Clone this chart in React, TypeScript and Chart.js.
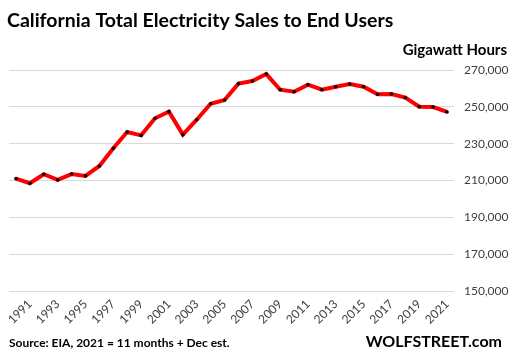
import React, { useEffect, useRef } from "react";
import { Chart, registerables } from "chart.js";

Chart.register(...registerables);

const years: string[] = [
  "1990", "1991", "1992", "1993", "1994", "1995", "1996", "1997", "1998", "1999",
  "2000", "2001", "2002", "2003", "2004", "2005", "2006", "2007", "2008", "2009",
  "2010", "2011", "2012", "2013", "2014", "2015", "2016", "2017", "2018", "2019",
  "2020", "2021",
];

const salesGWh: number[] = [
  211000, 208500, 213400, 210300, 213500, 212500, 217900, 227500, 236300, 234500,
  243800, 247400, 234900, 243000, 251700, 253700, 262600, 264000, 267800, 259300,
  258200, 262000, 259300, 260900, 262400, 260900, 256800, 257000, 255000, 250100,
  249900, 247200,
];

const yMin = 150000;
const yMax = 270000;
const yStep = 20000;

const titleText = "California Total Electricity Sales to End Users";
const unitText = "Gigawatt Hours";
const sourceText = "Source: EIA, 2021 = 11 months + Dec est.";
const brandText = "WOLFSTREET.com";

const FONT = "Lato, 'Open Sans', sans-serif";

const textPlugin = {
  id: "customText",
  afterDraw(chart: any) {
    const ctx = chart.ctx;
    ctx.save();
    ctx.fillStyle = "#000";
    ctx.textBaseline = "alphabetic";
    ctx.textAlign = "left";
    ctx.font = `bold 19.5px ${FONT}`;
    ctx.fillText(titleText, 7, 27);
    ctx.textAlign = "right";
    ctx.font = `bold 15px ${FONT}`;
    ctx.fillText(unitText, 507, 55);
    ctx.textAlign = "left";
    ctx.font = `bold 12px ${FONT}`;
    ctx.fillText(sourceText, 9, 347);
    ctx.textAlign = "right";
    ctx.font = `bold 16px ${FONT}`;
    ctx.fillText(brandText, 502, 347);
    ctx.restore();
  },
};

export default function App() {
  const ref = useRef<HTMLCanvasElement | null>(null);
  useEffect(() => {
    if (!ref.current) return;
    const chart = new Chart(ref.current, {
      type: "line",
      data: {
        labels: years,
        datasets: [
          {
            data: salesGWh,
            borderColor: "#ff0000",
            borderWidth: 4,
            pointRadius: 1.8,
            pointBackgroundColor: "#000",
            pointBorderColor: "#000",
            pointBorderWidth: 0,
            tension: 0,
          },
        ],
      },
      options: {
        animation: false,
        responsive: false,
        layout: { padding: { left: 9, top: 70, right: 0, bottom: 0 } },
        plugins: {
          legend: { display: false },
          tooltip: { enabled: false },
          title: { display: false },
        },
        scales: {
          x: {
            type: "category",
            offset: true,
            grid: { display: false, drawTicks: false },
            border: { display: false },
            ticks: {
              autoSkip: false,
              maxRotation: 45,
              minRotation: 45,
              padding: 6,
              color: "#404040",
              font: { family: FONT, size: 12 },
              callback: (_v: any, i: number) => (i % 2 === 1 ? years[i] : ""),
            },
            afterFit: (scale: any) => {
              scale.height = 69;
            },
          },
          y: {
            position: "right",
            min: yMin,
            max: yMax,
            grid: { color: "#d9d9d9", lineWidth: 1, drawTicks: false },
            border: { display: false },
            ticks: {
              stepSize: yStep,
              padding: 10,
              color: "#404040",
              font: { family: FONT, size: 12 },
              callback: (v: any) => Number(v).toLocaleString("en-US"),
            },
            afterFit: (scale: any) => {
              scale.width = 58;
            },
          },
        },
      },
      plugins: [textPlugin],
    });
    return () => chart.destroy();
  }, []);
  return (
    <div style={{ position: "fixed", left: 0, top: 0, width: 512, height: 360, background: "#fff" }}>
      <canvas ref={ref} width={512} height={360} style={{ display: "block" }} />
    </div>
  );
}
